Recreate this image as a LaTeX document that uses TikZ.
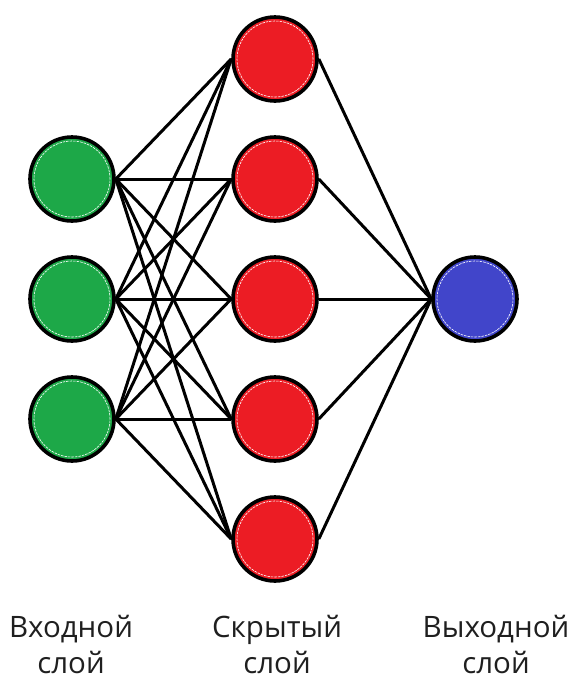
\documentclass[tikz,border=0pt]{standalone}
\usepackage{fontspec}
\usetikzlibrary{backgrounds}
\setmainfont{Open Sans}
\definecolor{ingreen}{HTML}{1DA848}
\definecolor{hidred}{HTML}{EC1C24}
\definecolor{outblue}{HTML}{4145CA}
\tikzset{
  neuron/.style={circle, draw=black, line width=3.6pt, minimum size=84pt, inner sep=0pt,
    path picture={\draw[white, line width=0.6pt, dash pattern=on 2.5pt off 1pt]
      (path picture bounding box.center) circle[radius=38pt];}},
  innode/.style={neuron, fill=ingreen},
  hidnode/.style={neuron, fill=hidred},
  outnode/.style={neuron, fill=outblue},
  link/.style={draw=black, line width=3pt},
  lbl/.style={align=center, font=\fontsize{29.5}{36}\selectfont, text=black!88, inner sep=0pt}
}
\begin{document}
\begin{tikzpicture}[x=1pt,y=-1pt]
\useasboundingbox (0,0) rectangle (570,678);
% nodes
\node[innode] (i1) at (72,179) {};
\node[innode] (i2) at (72,299) {};
\node[innode] (i3) at (72,419) {};
\node[hidnode] (h1) at (275,59) {};
\node[hidnode] (h2) at (275,179) {};
\node[hidnode] (h3) at (275,299) {};
\node[hidnode] (h4) at (275,419) {};
\node[hidnode] (h5) at (275,539) {};
\node[outnode] (o1) at (475,299) {};
% links
\begin{scope}[on background layer]
\foreach \i in {i1,i2,i3}{
  \foreach \h in {h1,h2,h3,h4,h5}{
    \draw[link] (\i.east) -- (\h.west);
  }
}
\foreach \h in {h1,h2,h3,h4,h5}{
  \draw[link] (\h.east) -- (o1.west);
}
\end{scope}
% labels
\node[lbl, anchor=base] (lin) at (71,673) {Входной\\слой};
\node[lbl, anchor=base] (lhid) at (277,673) {Скрытый\\слой};
\node[lbl, anchor=base] (lout) at (496,673) {Выходной\\слой};
\end{tikzpicture}
\end{document}
